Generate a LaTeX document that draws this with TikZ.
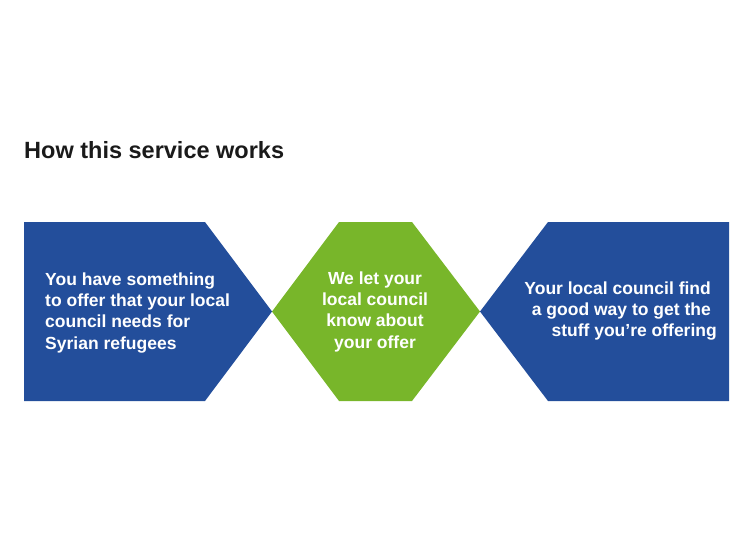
\documentclass[tikz,border=0pt]{standalone}
\usepackage{fontspec}
\setmainfont{Liberation Sans}
\definecolor{stepblue}{HTML}{234E9B}
\definecolor{stepgreen}{HTML}{78B62A}
\definecolor{titlegray}{HTML}{1A1A1A}
\tikzset{
  shapeblue/.style={fill=stepblue,draw=none},
  shapegreen/.style={fill=stepgreen,draw=none},
  steptext/.style={text=white,font=\fontsize{17.5}{21.3}\selectfont\bfseries,inner sep=0pt},
}
\begin{document}
\begin{tikzpicture}[x=1pt,y=-1pt]
\useasboundingbox (0,0) rectangle (754,533);
\node[anchor=base west,inner sep=0pt,text=titlegray,font=\fontsize{23.5}{26}\selectfont\bfseries] (title) at (24,158) {How this service works};
% shapes
\fill[shapeblue] (24,222) -- (205,222) -- (272,311.5) -- (205,401) -- (24,401) -- cycle;
\fill[shapegreen] (272,311.5) -- (339,222) -- (412,222) -- (480,311.5) -- (412,401) -- (339,401) -- cycle;
\fill[shapeblue] (480,311.5) -- (548,222) -- (729,222) -- (729,401) -- (548,401) -- cycle;
% texts
\node[steptext,anchor=west,align=left] (t1) at (45,312.6) {You have something\\to offer that your local\\council needs for\\Syrian refugees};
\node[steptext,anchor=center,align=center] (t2) at (375,311.6) {We let your\\local council\\know about\\your offer};
\node[steptext,anchor=east,align=right] (t3) at (711,311) {Your local council find\\a good way to get the\\stuff you’re offering\kern-6pt};
\end{tikzpicture}
\end{document}
